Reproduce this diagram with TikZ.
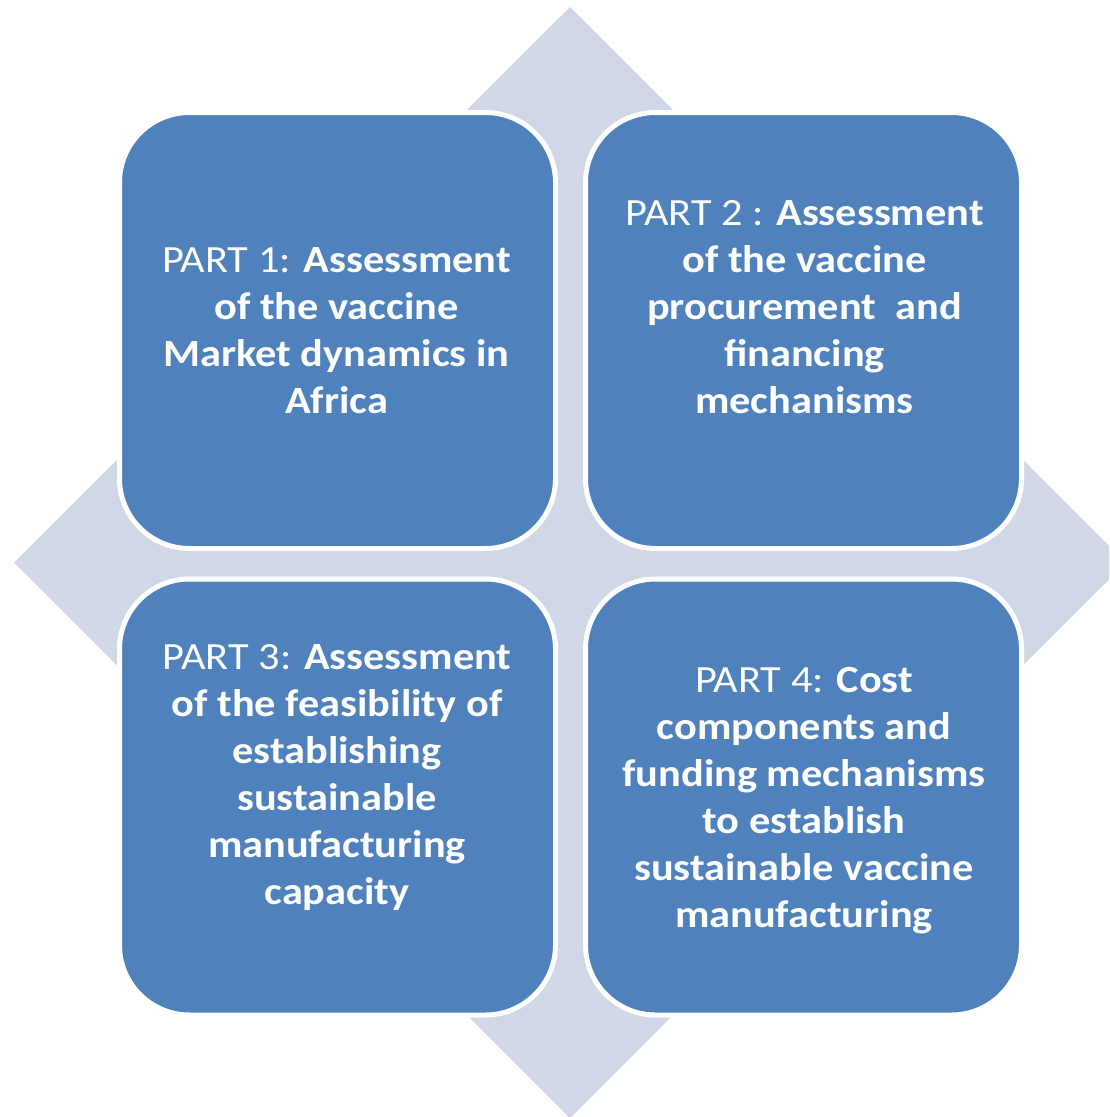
\documentclass[tikz,border=0pt]{standalone}
\usepackage{fontspec}
\setmainfont{Carlito}[FakeStretch=1.1]
\definecolor{boxblue}{HTML}{4F81BD}
\definecolor{diamondgray}{HTML}{D0D8E8}
\begin{document}
\begin{tikzpicture}[x=1pt,y=-1pt,
  partbox/.style={rectangle, rounded corners=70pt, fill=boxblue, draw=white, line width=5pt,
    minimum width=436pt, minimum height=436pt, inner sep=0pt, outer sep=0pt},
  parttext/.style={text=white, align=center, font=\fontsize{38.5}{47}\selectfont, inner sep=0pt}]
\useasboundingbox (0,0) rectangle (1109,1117);
\clip (0,0) rectangle (1109,1117);
\fill[diamondgray] (570,7) -- (1126,562.5) -- (570,1118) -- (14,562.5) -- cycle;
\node[partbox] (b1) at (337.5,330.5) {};
\node[partbox] (b2) at (803.5,330.5) {};
\node[partbox] (b3) at (337.5,797) {};
\node[partbox] (b4) at (803.5,797) {};
\node[parttext] (t1) at (336.5,331) {PART 1: \textbf{Assessment}\\ \textbf{of the vaccine}\\ \textbf{Market dynamics in}\\ \textbf{Africa}};
\node[parttext] (t2) at (804.5,307.5) {PART 2 : \textbf{Assessment}\\ \textbf{of the vaccine}\\ \textbf{procurement\ \ and}\\ \textbf{financing}\\ \textbf{mechanisms}};
\node[parttext] (t3) at (337,778) {PART 3: \textbf{Assessment}\\ \textbf{of the feasibility of}\\ \textbf{establishing}\\ \textbf{sustainable}\\ \textbf{manufacturing}\\ \textbf{capacity}};
\node[parttext] (t4) at (804,801) {PART 4: \textbf{Cost}\\ \textbf{components and}\\ \textbf{funding mechanisms}\\ \textbf{to establish}\\ \textbf{sustainable vaccine}\\ \textbf{manufacturing}};
\end{tikzpicture}
\end{document}
